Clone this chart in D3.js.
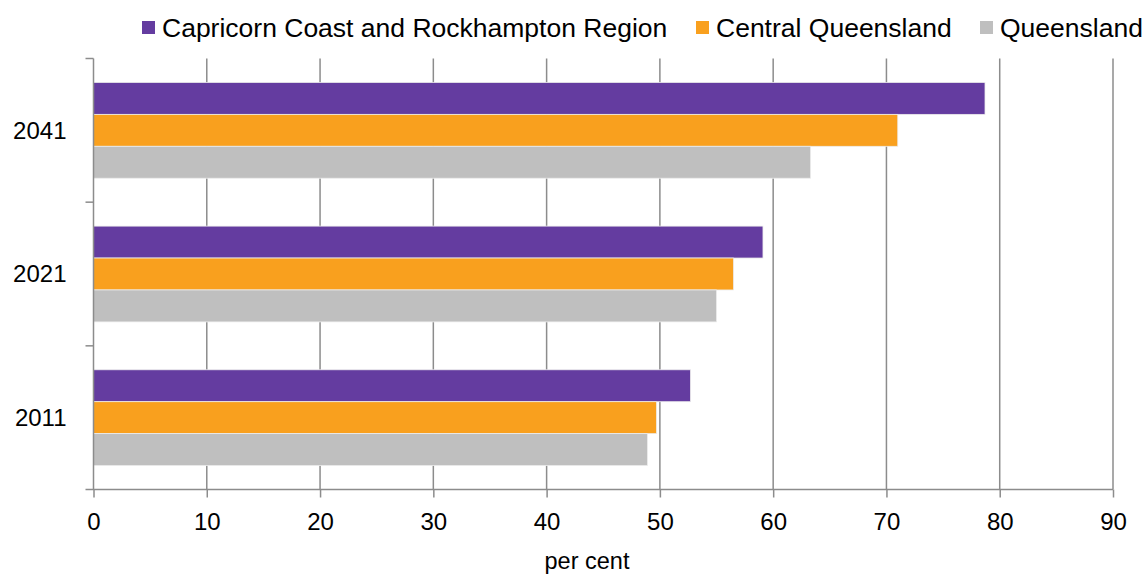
<!DOCTYPE html>
<html>
<head>
<meta charset="utf-8">
<script src="https://cdn.jsdelivr.net/npm/d3@7"></script>
<style>
  html, body { margin: 0; padding: 0; background: #fff; }
  svg { display: block; font-family: "Liberation Sans", Arial, sans-serif; }
</style>
</head>
<body>
<svg id="chart" width="1146" height="574"></svg>
<script>
// Population share (per cent) by year and area
const years = ["2041", "2021", "2011"];
const seriesNames = ["Capricorn Coast and Rockhampton Region", "Central Queensland", "Queensland"];
const capricorn = [78.7, 59.1, 52.7];
const centralQld = [71.0, 56.5, 49.7];
const queensland = [63.3, 55.0, 48.9];
const seriesColors = ["#643ca0", "#f9a01e", "#bfbfbf"];
const xTicks = [0, 10, 20, 30, 40, 50, 60, 70, 80, 90];

const seriesValues = [capricorn, centralQld, queensland];

const svg = d3.select("#chart");
const plotLeft = 93.5, plotRight = 1113, plotTop = 58.5, plotBottom = 489.5;

const x = d3.scaleLinear().domain([0, 90]).range([plotLeft, plotRight]);
const y = d3.scaleBand().domain(years).range([plotTop, plotBottom]).paddingInner(1/3).paddingOuter(1/6);
const ySub = d3.scaleBand().domain(seriesNames).range([0, y.bandwidth()]);

// vertical gridlines
svg.append("g")
  .selectAll("line")
  .data(xTicks.slice(1))
  .join("line")
  .attr("x1", d => x(d)).attr("x2", d => x(d))
  .attr("y1", plotTop).attr("y2", plotBottom)
  .attr("stroke", "#8c8c8c").attr("stroke-width", 1.5);

// bars
const groups = svg.append("g")
  .selectAll("g")
  .data(years)
  .join("g")
  .attr("transform", d => `translate(0,${y(d)})`);

groups.selectAll("rect")
  .data((yr, i) => seriesNames.map((s, j) => ({ s, v: seriesValues[j][i], c: seriesColors[j] })))
  .join("rect")
  .attr("x", x(0))
  .attr("y", d => ySub(d.s))
  .attr("width", d => x(d.v) - x(0))
  .attr("height", ySub.bandwidth())
  .attr("fill", d => d.c)
  .attr("stroke", "#ececec")
  .attr("stroke-width", 0.8);

// x axis
const xAxis = svg.append("g")
  .attr("transform", `translate(0,${plotBottom})`)
  .call(d3.axisBottom(x).tickValues(xTicks).tickSize(8).tickPadding(15));
xAxis.select(".domain").attr("stroke", "#8c8c8c").attr("stroke-width", 1.5)
  .attr("d", `M${plotLeft - 8},0H${plotRight}`);
xAxis.selectAll(".tick line").attr("stroke", "#8c8c8c").attr("stroke-width", 1.5);
xAxis.selectAll(".tick text").attr("font-size", 24).attr("fill", "#000")
  .attr("font-family", "Liberation Sans, Arial, sans-serif");

// y axis with ticks on band boundaries
const yAxis = svg.append("g").attr("transform", `translate(${plotLeft},0)`);
yAxis.append("line")
  .attr("x1", 0).attr("x2", 0).attr("y1", plotTop).attr("y2", plotBottom)
  .attr("stroke", "#8c8c8c").attr("stroke-width", 1.5);
const bandStep = (plotBottom - plotTop) / years.length;
yAxis.selectAll("line.tk")
  .data(d3.range(years.length))
  .join("line")
  .attr("class", "tk")
  .attr("x1", -8).attr("x2", 0)
  .attr("y1", d => plotTop + d * bandStep).attr("y2", d => plotTop + d * bandStep)
  .attr("stroke", "#8c8c8c").attr("stroke-width", 1.5);
yAxis.selectAll("text")
  .data(years)
  .join("text")
  .attr("x", -27)
  .attr("y", d => y(d) + y.bandwidth() / 2)
  .attr("dy", "0.35em")
  .attr("text-anchor", "end")
  .attr("font-size", 24)
  .attr("fill", "#000")
  .text(d => d);

// axis title
svg.append("text")
  .attr("x", 587).attr("y", 569)
  .attr("text-anchor", "middle")
  .attr("font-size", 23.5)
  .attr("fill", "#000")
  .text("per cent");

// legend
const legendX = [142, 696, 980];
const legend = svg.append("g");
seriesNames.forEach((name, i) => {
  legend.append("rect")
    .attr("x", legendX[i]).attr("y", 21)
    .attr("width", 13).attr("height", 13)
    .attr("fill", seriesColors[i]);
  legend.append("text")
    .attr("x", legendX[i] + 20).attr("y", 36.7)
    .attr("font-size", 26.5)
    .attr("fill", "#000")
    .text(name);
});
</script>
</body>
</html>
